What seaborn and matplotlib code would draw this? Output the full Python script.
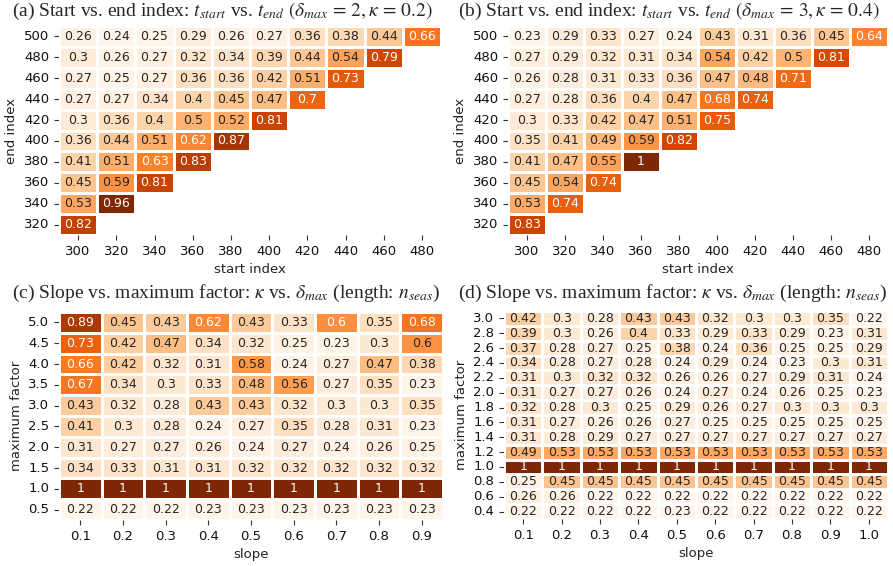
import numpy as np
import pandas as pd
import matplotlib
matplotlib.use("Agg")
import matplotlib.pyplot as plt
import seaborn as sns

# ---------------- data ----------------
start_idx = [300, 320, 340, 360, 380, 400, 420, 440, 460, 480]
end_idx = [500, 480, 460, 440, 420, 400, 380, 360, 340, 320]

a_rows = [
    [0.26, 0.24, 0.25, 0.29, 0.26, 0.27, 0.36, 0.38, 0.44, 0.66],
    [0.30, 0.26, 0.27, 0.32, 0.34, 0.39, 0.44, 0.54, 0.79],
    [0.27, 0.25, 0.27, 0.36, 0.36, 0.42, 0.51, 0.73],
    [0.27, 0.27, 0.34, 0.40, 0.45, 0.47, 0.70],
    [0.30, 0.36, 0.40, 0.50, 0.52, 0.81],
    [0.36, 0.44, 0.51, 0.62, 0.87],
    [0.41, 0.51, 0.63, 0.83],
    [0.45, 0.59, 0.81],
    [0.53, 0.96],
    [0.82],
]
b_rows = [
    [0.23, 0.29, 0.33, 0.27, 0.24, 0.43, 0.31, 0.36, 0.45, 0.64],
    [0.27, 0.29, 0.32, 0.31, 0.34, 0.54, 0.42, 0.50, 0.81],
    [0.26, 0.28, 0.31, 0.33, 0.36, 0.47, 0.48, 0.71],
    [0.27, 0.28, 0.36, 0.40, 0.47, 0.68, 0.74],
    [0.30, 0.33, 0.42, 0.47, 0.51, 0.75],
    [0.35, 0.41, 0.49, 0.59, 0.82],
    [0.41, 0.47, 0.55, 1.00],
    [0.45, 0.54, 0.74],
    [0.53, 0.74],
    [0.83],
]

slope_c = [0.1, 0.2, 0.3, 0.4, 0.5, 0.6, 0.7, 0.8, 0.9]
maxf_c = [5.0, 4.5, 4.0, 3.5, 3.0, 2.5, 2.0, 1.5, 1.0, 0.5]
c_vals = [
    [0.89, 0.45, 0.43, 0.62, 0.43, 0.33, 0.604, 0.35, 0.68],
    [0.73, 0.42, 0.47, 0.34, 0.32, 0.25, 0.23, 0.30, 0.596],
    [0.66, 0.42, 0.32, 0.31, 0.58, 0.24, 0.27, 0.47, 0.38],
    [0.67, 0.34, 0.30, 0.33, 0.48, 0.56, 0.27, 0.35, 0.23],
    [0.43, 0.32, 0.28, 0.43, 0.43, 0.32, 0.30, 0.30, 0.35],
    [0.41, 0.30, 0.28, 0.24, 0.27, 0.35, 0.28, 0.31, 0.23],
    [0.31, 0.27, 0.27, 0.26, 0.24, 0.27, 0.24, 0.26, 0.25],
    [0.34, 0.33, 0.31, 0.31, 0.32, 0.32, 0.32, 0.32, 0.32],
    [1, 1, 1, 1, 1, 1, 1, 1, 1],
    [0.22, 0.22, 0.22, 0.23, 0.23, 0.23, 0.23, 0.23, 0.23],
]

slope_d = [0.1, 0.2, 0.3, 0.4, 0.5, 0.6, 0.7, 0.8, 0.9, 1.0]
maxf_d = [3.0, 2.8, 2.6, 2.4, 2.2, 2.0, 1.8, 1.6, 1.4, 1.2, 1.0, 0.8, 0.6, 0.4]
d_vals = [
    [0.42, 0.30, 0.28, 0.43, 0.43, 0.32, 0.30, 0.30, 0.35, 0.22],
    [0.39, 0.30, 0.26, 0.40, 0.33, 0.29, 0.33, 0.29, 0.23, 0.31],
    [0.37, 0.28, 0.27, 0.25, 0.38, 0.24, 0.36, 0.25, 0.25, 0.29],
    [0.34, 0.28, 0.27, 0.28, 0.24, 0.29, 0.24, 0.23, 0.30, 0.31],
    [0.31, 0.30, 0.32, 0.32, 0.26, 0.26, 0.27, 0.29, 0.31, 0.24],
    [0.31, 0.27, 0.27, 0.26, 0.24, 0.27, 0.24, 0.26, 0.25, 0.23],
    [0.32, 0.28, 0.30, 0.25, 0.29, 0.26, 0.27, 0.30, 0.30, 0.30],
    [0.31, 0.27, 0.26, 0.26, 0.27, 0.25, 0.25, 0.25, 0.25, 0.25],
    [0.31, 0.28, 0.29, 0.27, 0.27, 0.27, 0.27, 0.27, 0.27, 0.27],
    [0.49, 0.53, 0.53, 0.53, 0.53, 0.53, 0.53, 0.53, 0.53, 0.53],
    [1, 1, 1, 1, 1, 1, 1, 1, 1, 1],
    [0.25, 0.45, 0.45, 0.45, 0.45, 0.45, 0.45, 0.45, 0.45, 0.45],
    [0.26, 0.26, 0.22, 0.22, 0.22, 0.22, 0.22, 0.22, 0.22, 0.22],
    [0.22, 0.22, 0.22, 0.22, 0.23, 0.22, 0.22, 0.22, 0.22, 0.22],
]

titles = [
    r"(a) Start vs. end index: $t_{start}$ vs. $t_{end}$ $(\delta_{max}\,=\,2,\kappa\,=\,0.2)$",
    r"(b) Start vs. end index: $t_{start}$ vs. $t_{end}$ $(\delta_{max}\,=\,3,\kappa\,=\,0.4)$",
    r"(c) Slope vs. maximum factor: $\kappa$ vs. $\delta_{max}$ (length: $n_{seas}$)",
    r"(d) Slope vs. maximum factor: $\kappa$ vs. $\delta_{max}$ (length: $n_{seas}$)",
]


def tri_frame(rows):
    arr = np.full((len(end_idx), len(start_idx)), np.nan)
    for i, r in enumerate(rows):
        arr[i, :len(r)] = r
    return pd.DataFrame(arr, index=end_idx, columns=start_idx)


sns.set_style("ticks")
plt.rcParams["font.family"] = ["DejaVu Sans"]
plt.rcParams["mathtext.fontset"] = "stix"

W, H = 893, 566
fig = plt.figure(figsize=(W / 100, H / 100), dpi=100)


def px_axes(x0, y0, x1, y1):
    return fig.add_axes([x0 / W, 1 - y1 / H, (x1 - x0) / W, (y1 - y0) / H])


ax_a = px_axes(59, 26, 441, 235)
ax_b = px_axes(508, 26, 888, 235)
ax_c = px_axes(59, 312, 443, 520)
ax_d = px_axes(504, 311, 888, 519)

frames = [
    (ax_a, tri_frame(a_rows), "start index", "end index"),
    (ax_b, tri_frame(b_rows), "start index", "end index"),
    (ax_c, pd.DataFrame(c_vals, index=[f"{v:.1f}" for v in maxf_c], columns=slope_c), "slope", "maximum factor"),
    (ax_d, pd.DataFrame(d_vals, index=[f"{v:.1f}" for v in maxf_d], columns=slope_d), "slope", "maximum factor"),
]

for ax, df, xl, yl in frames:
    sns.heatmap(df, ax=ax, cmap="Oranges", annot=True, fmt=".2g", cbar=False,
                linewidths=0.8, linecolor="white", xticklabels=True, yticklabels=True,
                annot_kws={"fontsize": 9})
    ax.set_xlabel(xl, fontsize=9.5, color="#222222")
    ax.set_ylabel(yl, fontsize=9.5, color="#222222")
    ax.tick_params(axis="both", labelsize=9.5, length=3.5, width=0.8,
                   color="#333333", labelcolor="#111111")
    ax.tick_params(axis="y", rotation=0)
    ax.tick_params(axis="x", rotation=0)

title_pos = [(12, 11), (458, 11), (12, 293), (458, 293)]
for (tx, ty), t in zip(title_pos, titles):
    fig.text(tx / W, 1 - ty / H, t, ha="left", va="center", fontsize=14,
             family="Liberation Serif")

fig.savefig("out.png", dpi=100)
